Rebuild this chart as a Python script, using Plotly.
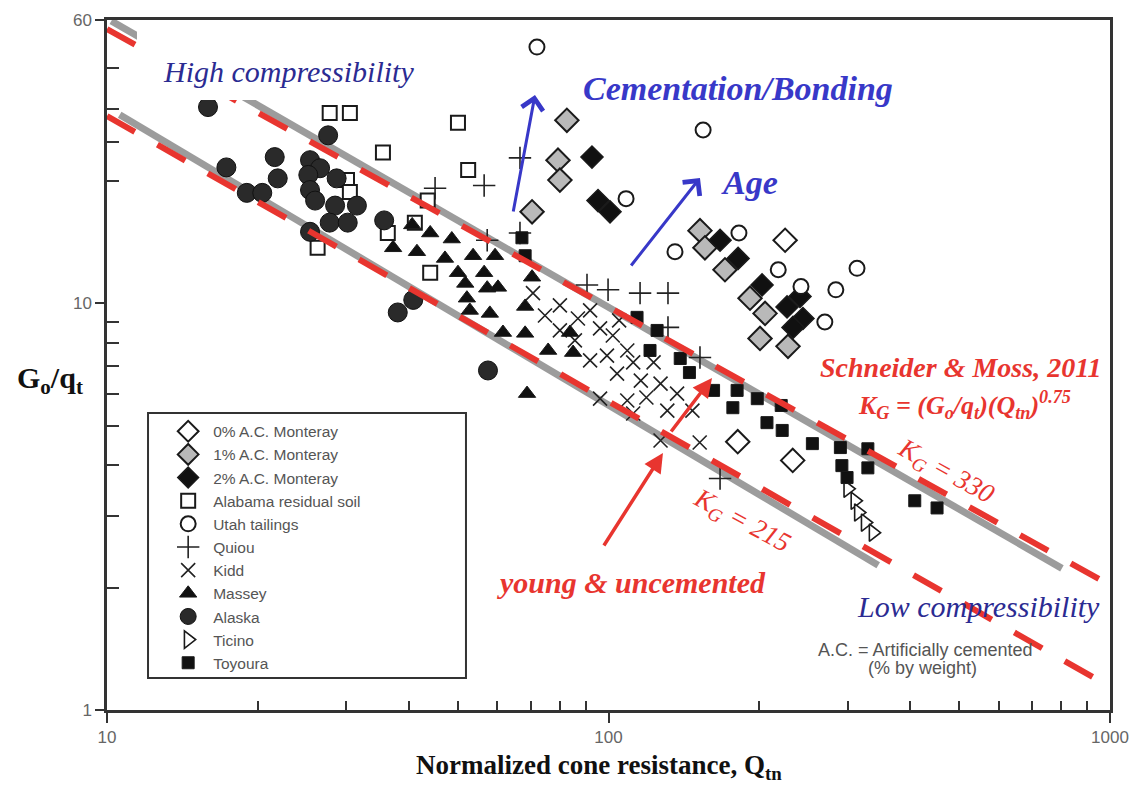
import plotly.graph_objects as go

# ---------------- data ----------------
alaska_q = [15.9, 27.6, 17.3, 21.6, 21.9, 25.4, 26.6, 25.2, 28.7, 25.4, 26.0, 28.5, 31.5, 27.8, 30.2, 19.0, 20.4, 25.4, 35.7, 40.8, 38.0, 57.5]
alaska_g = [30.4, 25.9, 21.6, 22.9, 20.3, 22.5, 21.5, 20.7, 20.3, 19.0, 17.9, 17.4, 17.4, 15.8, 15.8, 18.7, 18.7, 15.0, 16.0, 10.2, 9.5, 6.84]

alabama_q = [27.8, 30.5, 35.5, 50.1, 52.5, 30.1, 30.5, 43.6, 41.1, 36.3, 26.3, 44.1]
alabama_g = [29.4, 29.4, 23.5, 27.8, 21.3, 20.1, 18.8, 17.9, 15.8, 14.9, 13.7, 11.9]

utah_q = [72.0, 154.4, 108.4, 135.7, 182, 218, 242, 284, 313, 270]
utah_g = [42.7, 26.7, 18.1, 13.4, 14.9, 12.1, 11.0, 10.8, 12.2, 9.0]

ac0_q = [225, 181, 233]
ac0_g = [14.3, 4.57, 4.11]

ac1_q = [82.6, 79.3, 80.0, 70.4, 152.2, 155.7, 170.7, 191.5, 205.2, 200.5, 228]
ac1_g = [28.2, 22.5, 20.1, 16.8, 15.1, 13.7, 12.1, 10.3, 9.45, 8.2, 7.84]

ac2_q = [92.7, 95.3, 100.7, 166.9, 181.3, 202.4, 240.9, 227, 244.2, 233.3]
ac2_g = [22.9, 17.9, 16.8, 14.3, 12.9, 11.1, 10.4, 9.8, 9.18, 8.73]

quiou_q = [45.1, 56.5, 66.6, 57.3, 66.6, 90.6, 99.8, 115.6, 131.4, 131.4, 152.2, 166.9]
quiou_g = [19.2, 19.5, 22.8, 14.3, 14.9, 11.1, 10.8, 10.6, 10.6, 8.73, 7.36, 3.71]

kidd_q = [70.7, 74.7, 80.0, 86.9, 91.9, 96.2, 102, 109, 99.3, 112, 123, 104, 116, 127, 96.2, 109, 119, 137, 131, 147, 112, 127, 152, 80, 85.7, 91.9, 105]
kidd_g = [10.6, 9.34, 9.89, 9.18, 9.61, 8.68, 8.34, 7.66, 7.44, 7.16, 7.16, 6.72, 6.46, 6.35, 5.83, 5.77, 5.87, 6.0, 5.45, 5.45, 5.36, 4.6, 4.55, 8.58, 8.11, 7.24, 9.08]

massey_q = [40.6, 44.1, 48.7, 37.2, 41.5, 47.2, 53.7, 59.4, 50.1, 56.5, 70.4, 51.8, 57.3, 60.2, 52.2, 52.9, 58.0, 61.6, 68.2, 68.2, 75.8, 85.0, 83.8, 68.8]
massey_g = [15.6, 14.9, 14.4, 13.7, 13.4, 12.9, 13.1, 13.1, 11.9, 11.9, 11.6, 11.2, 10.9, 10.95, 10.3, 9.61, 9.45, 8.48, 8.44, 9.83, 7.66, 7.57, 8.48, 6.0]

ticino_q = [300, 310, 315, 325, 337]
ticino_g = [3.50, 3.27, 3.06, 2.89, 2.73]

toyoura_q = [67.2, 68.2, 114, 125, 121, 139, 145, 162, 180.5, 177, 198, 207, 221, 222, 255, 290, 329, 292, 329, 299, 408, 452]
toyoura_g = [14.5, 13.1, 9.24, 8.58, 7.66, 7.32, 6.76, 6.11, 6.11, 5.54, 5.83, 5.09, 5.61, 4.87, 4.52, 4.42, 4.39, 3.99, 3.94, 3.73, 3.27, 3.14]

# boundary lines (end points)
gray_upper_q = [10.2, 802]
gray_upper_g = [49.5, 2.23]
gray_lower_q = [10.6, 345]
gray_lower_g = [29.1, 2.27]
red_upper_q = [10, 1000]
red_upper_g = [47.3, 2.03]
red_lower_q = [10, 1000]
red_lower_g = [28.9, 1.14]

x_tickvals = [10, 100, 1000]
x_ticktext = ["10", "100", "1000"]
x_minor = [20, 30, 40, 50, 60, 70, 80, 90, 200, 300, 400, 500, 600, 700, 800, 900]
y_tickvals = [1, 10, 49.7]
y_ticktext = ["1", "10", "60"]
y_minor = [2, 3, 4, 5, 6, 7, 8, 9, 20, 25, 30, 38]

# ---------------- figure ----------------
SERIF = "Liberation Serif"
SANS = "Liberation Sans, Arial"
RED = "#e8352f"
NAVY = "#2b2b92"
BLUE = "#3838c8"
GRAYLINE = "#9c9c9c"

fig = go.Figure()

for q, g in [(gray_upper_q, gray_upper_g), (gray_lower_q, gray_lower_g)]:
    fig.add_trace(go.Scatter(x=q, y=g, mode="lines", showlegend=False, hoverinfo="skip",
                             line=dict(color=GRAYLINE, width=7)))

def add_pts(name, q, g, symbol, size, fill, lw, lc="#1a1a1a"):
    fig.add_trace(go.Scatter(x=q, y=g, mode="markers", name=name,
                             marker=dict(symbol=symbol, size=size, color=fill,
                                         line=dict(width=lw, color=lc))))

add_pts("0% A.C. Monteray", ac0_q, ac0_g, "diamond", 18, "white", 2)
add_pts("1% A.C. Monteray", ac1_q, ac1_g, "diamond", 18, "#b9b9b9", 2)
add_pts("2% A.C. Monteray", ac2_q, ac2_g, "diamond", 17, "#111111", 1.5)
add_pts("Alabama residual soil", alabama_q, alabama_g, "square", 14, "white", 2)
add_pts("Utah tailings", utah_q, utah_g, "circle", 15, "white", 2)
add_pts("Quiou", quiou_q, quiou_g, "cross-thin", 16, "#222222", 1.6, "#222222")
add_pts("Kidd", kidd_q, kidd_g, "x-thin", 14, "#222222", 1.6, "#222222")
add_pts("Massey", massey_q, massey_g, "triangle-up", 15, "#111111", 1)
add_pts("Alaska", alaska_q, alaska_g, "circle", 19, "#2a2a2a", 1, "#111111")
add_pts("Ticino", ticino_q, ticino_g, "triangle-right", 15, "white", 1.6)
add_pts("Toyoura", toyoura_q, toyoura_g, "square", 12, "#111111", 1)

for q, g in [(red_upper_q, red_upper_g), (red_lower_q, red_lower_g)]:
    fig.add_trace(go.Scatter(x=q, y=g, mode="lines", showlegend=False, hoverinfo="skip",
                             line=dict(color=RED, width=6, dash="32px,26px")))

AX = "#333333"
fig.update_layout(
    width=1143, height=790,
    margin=dict(l=107, r=33, t=20, b=80),
    paper_bgcolor="white", plot_bgcolor="white",
    showlegend=True,
    legend=dict(x=0.056, y=0.428, xanchor="left", yanchor="top",
                bgcolor="rgba(0,0,0,0)", borderwidth=0, itemwidth=40,
                font=dict(family=SANS, size=15.5, color="#555555"),
                traceorder="normal", tracegroupgap=0),
    xaxis=dict(type="log", range=[1, 3], tickmode="array", tickvals=x_tickvals, ticktext=x_ticktext,
               ticks="outside", ticklen=10, tickwidth=2, tickcolor=AX,
               showline=True, linecolor=AX, linewidth=2.5, mirror=True,
               showgrid=False, zeroline=False,
               tickfont=dict(family=SANS, size=17, color="#666666"),
               minor=dict(tickmode="array", tickvals=x_minor, ticks="inside", ticklen=9,
                          tickwidth=1.6, tickcolor=AX, showgrid=False)),
    yaxis=dict(type="log", range=[0, 1.697], tickmode="array", tickvals=y_tickvals, ticktext=y_ticktext,
               ticks="outside", ticklen=9, tickwidth=2, tickcolor=AX,
               showline=True, linecolor=AX, linewidth=2.5, mirror=True,
               showgrid=False, zeroline=False,
               tickfont=dict(family=SANS, size=17, color="#666666"),
               minor=dict(tickmode="array", tickvals=y_minor, ticks="inside", ticklen=12,
                          tickwidth=1.6, tickcolor=AX, showgrid=False)),
    xaxis2=dict(type="log", range=[1, 3], overlaying="x", anchor="y", side="bottom",
                tickmode="array", tickvals=x_tickvals, ticks="inside", ticklen=16, tickwidth=2,
                tickcolor=AX, showticklabels=False, showgrid=False, zeroline=False, showline=False),
    yaxis2=dict(type="log", range=[0, 1.697], overlaying="y", anchor="x", side="left",
                tickmode="array", tickvals=y_tickvals, ticks="inside", ticklen=16, tickwidth=2,
                tickcolor=AX, showticklabels=False, showgrid=False, zeroline=False, showline=False),
)

# legend frame and white mask behind the "High compressibility" label
fig.add_shape(type="rect", xref="paper", yref="paper", x0=0.0409, x1=0.3579, y0=0.0464, y1=0.4304,
              line=dict(color="#333333", width=2), fillcolor="rgba(0,0,0,0)", layer="above")
fig.add_shape(type="rect", xref="paper", yref="paper", x0=0.0299, x1=0.3350, y0=0.884, y1=0.988,
              line=dict(width=0), fillcolor="white", layer="above")

def ann(text, x, y, size, color, family=SERIF, angle=0, **kw):
    fig.add_annotation(text=text, x=x, y=y, xref="paper", yref="paper", showarrow=False,
                       xanchor="center", yanchor="middle", textangle=angle,
                       font=dict(family=family, size=size, color=color), **kw)

ann("<i>High compressibility</i>", 0.1805, 0.925, 30, NAVY)
ann("<b><i>Cementation/Bonding</i></b>", 0.629, 0.9014, 34, BLUE)
ann("<b><i>Age</i></b>", 0.641, 0.7652, 34, BLUE)
ann("<b><i>Schneider &amp; Moss, 2011</i></b>", 0.8515, 0.4971, 28, RED)
ann("<b><i>K<sub>G</sub> = (G<sub>o</sub>/q<sub>t</sub>)(Q<sub>tn</sub>)<sup>0.75</sup></i></b>", 0.8554, 0.442, 26, RED)
ann("<i>K<sub>G</sub> = 330</i>", 0.8355, 0.3449, 27, RED, angle=29)
ann("<i>K<sub>G</sub> = 215</i>", 0.6331, 0.2725, 27, RED, angle=28)
ann("<b><i>young &amp; uncemented</i></b>", 0.5234, 0.1855, 30, RED)
ann("<i>Low compressibility</i>", 0.8684, 0.1493, 30, NAVY)
ann("A.C. = Artificially cemented", 0.8156, 0.087, 18, "#555555", family=SANS)
ann("(% by weight)", 0.8126, 0.0609, 18, "#555555", family=SANS)
ann("<b>G<sub>o</sub>/q<sub>t</sub></b>", -0.0568, 0.478, 30, "#111111")
ann("<b>Normalized cone resistance, Q<sub>tn</sub></b>", 0.4905, -0.0826, 27, "#111111")

def arrow(x, y, ax, ay, color, head=2, width=3.5, size=1.2):
    fig.add_annotation(x=x, y=y, xref="paper", yref="paper", ax=ax, ay=ay, text="",
                       showarrow=True, arrowhead=head, arrowwidth=width, arrowsize=size,
                       arrowcolor=color)

arrow(0.4267, 0.8913, -22, 118, BLUE, head=4, width=3, size=1.4)
arrow(0.5912, 0.7710, -70, 89, BLUE, head=4, width=3, size=1.4)
arrow(0.5543, 0.3725, -60, 94, RED, head=2, width=3.5, size=1.1)
arrow(0.6032, 0.4812, -42, 55, RED, head=2, width=3.5, size=1.1)

fig.write_html("out.html")
